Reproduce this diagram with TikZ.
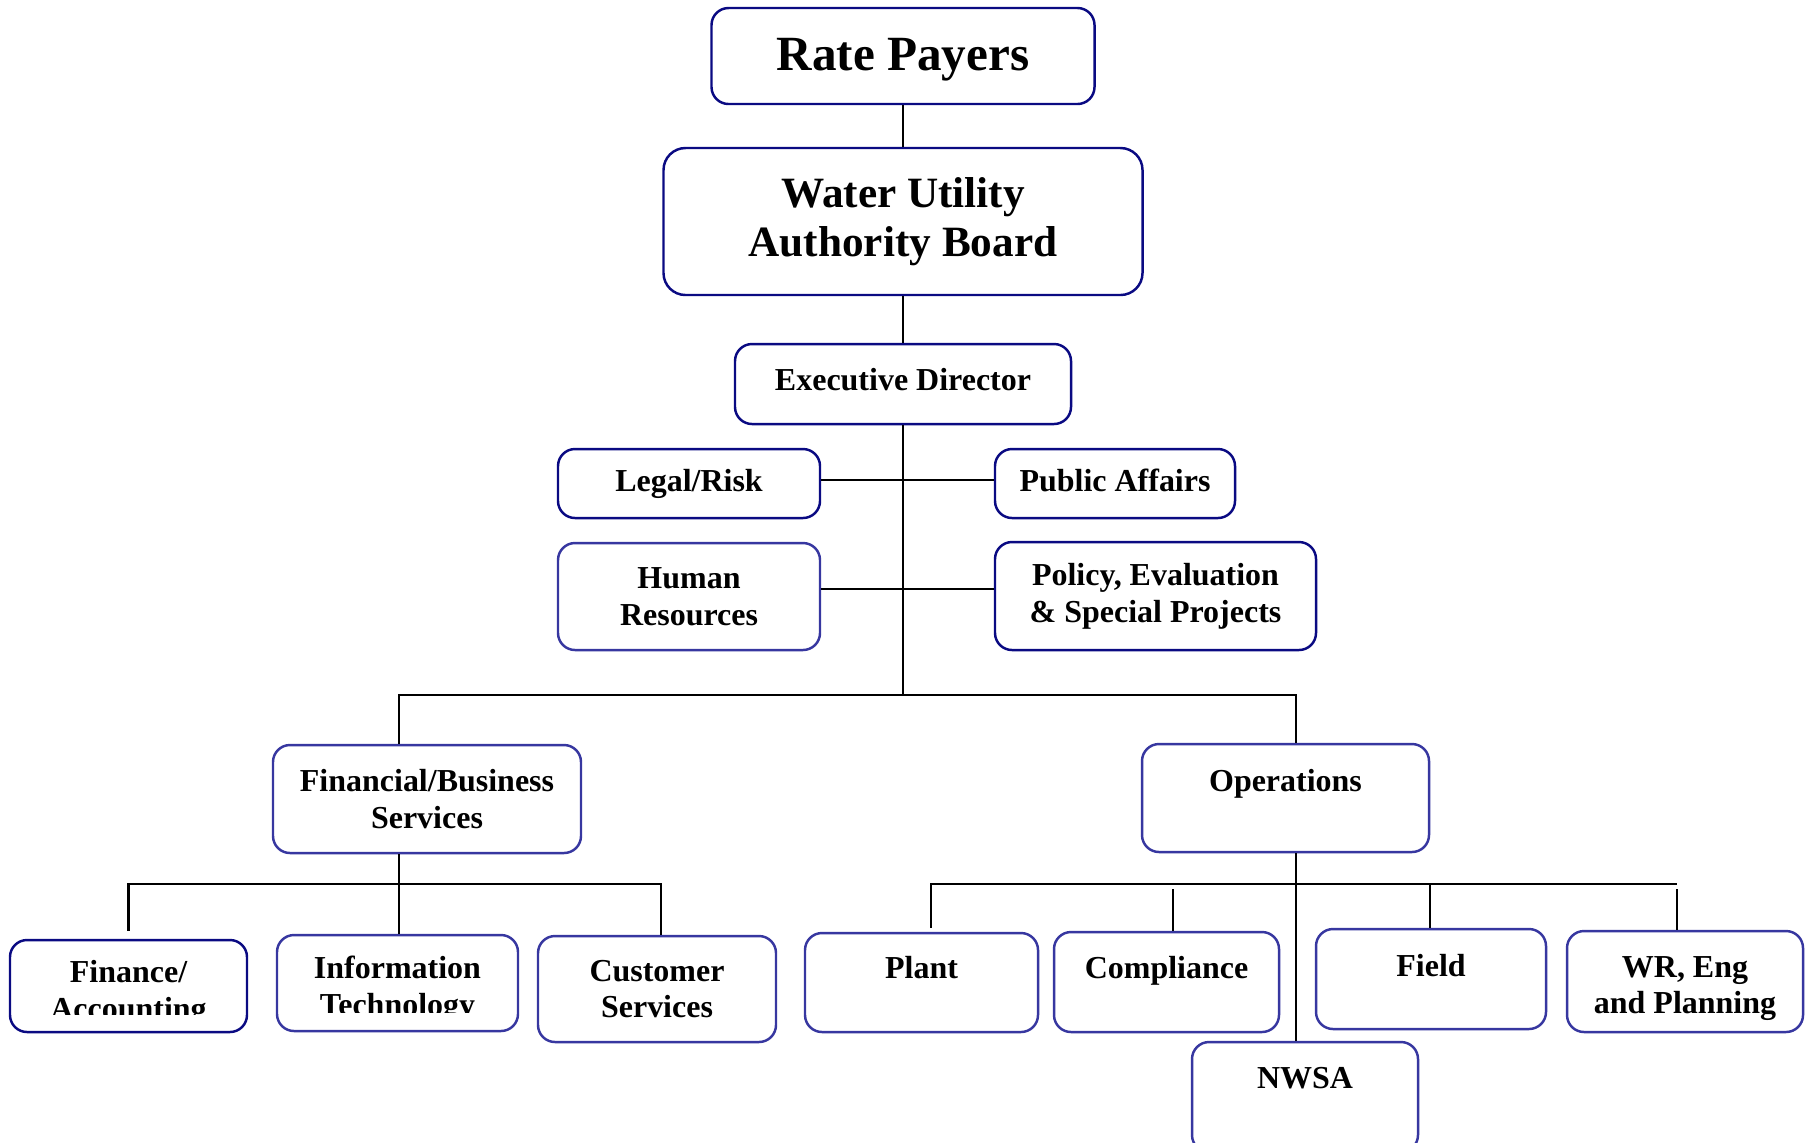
\documentclass[tikz,border=0pt]{standalone}
\usepackage{fontspec}
\setmainfont{Liberation Serif}
\usepackage{trimclip}
\usepackage{tikz}
\usetikzlibrary{calc}
\usetikzlibrary{positioning}
\definecolor{navy}{RGB}{10, 10, 130}
\definecolor{indigo}{RGB}{55, 55, 160}
\newcommand{\stack}[1]{\begin{tabular}{@{}c@{}}#1\end{tabular}}
\newcommand{\cutbox}[2]{\clipbox{0pt #1 0pt 0pt}{\stack{#2}}}
\tikzset{
    unit/.style={draw=indigo, line width=0.7pt, rounded corners=0.17cm, align=center,
                 inner sep=0pt, font=\bfseries\fontsize{9.1}{10.5}\selectfont},
    dark/.style={unit, draw=navy},
    raised/.style={text height=0.22cm, text depth=#1},
    wire/.style={line width=0.6pt},
}

\begin{document}
\begin{tikzpicture}
            \useasboundingbox (0.00, 0.00) rectangle (18.08,-11.42);
            % top of the chart
            \node[dark, minimum width=3.83cm, minimum height=0.96cm, text height=0.33cm, text depth=0.04cm,
                 font=\bfseries\fontsize{14}{16}\selectfont]
                 (rate)   at ( 9.03,-0.56)  {Rate Payers};
            \node[dark, minimum width=4.79cm, minimum height=1.47cm, rounded corners=0.22cm,
                 font=\bfseries\fontsize{12.3}{13.9}\selectfont]
                 (board)  at ( 9.03,-2.215) {Water Utility\\Authority Board};
            \node[dark, raised=0.10cm, minimum width=3.36cm, minimum height=0.80cm] (exec) at ( 9.03,-3.84) {Executive Director};
            \node[dark,   minimum width=2.62cm, minimum height=0.69cm] (legal)  at ( 6.89,-4.835) {Legal/Risk};
            \node[dark, raised=0.06cm, minimum width=2.40cm, minimum height=0.69cm] (public) at (11.15,-4.835) {Public Affairs};
            \node[unit,   minimum width=2.62cm, minimum height=1.07cm] (hr)     at ( 6.89,-5.965) {Human\\Resources};
            \node[dark,   minimum width=3.21cm, minimum height=1.08cm] (policy) at (11.555,-5.96) {Policy, Evaluation\\\& Special Projects};
            % divisions
            \node[unit,   minimum width=3.08cm, minimum height=1.08cm] (fin)    at ( 4.27,-7.99)  {Financial/Business\\Services};
            \node[unit, raised=0.36cm, minimum width=2.87cm, minimum height=1.08cm] (ops) at (12.855,-7.98) {Operations};
            % sections
            \node[dark,   minimum width=2.37cm, minimum height=0.92cm] (acct)   at ( 1.285,-9.86) {\cutbox{0.16cm}{Finance/\\Accounting}};
            \node[unit,   minimum width=2.41cm, minimum height=0.96cm] (it)     at ( 3.975,-9.83) {\cutbox{0.14cm}{Information\\Technology}};
            \node[unit,   minimum width=2.38cm, minimum height=1.06cm] (cust)   at ( 6.57,-9.89)  {Customer\\Services};
            \node[unit, raised=0.30cm, minimum width=2.33cm, minimum height=0.99cm] (plant) at ( 9.215,-9.825) {Plant};
            \node[unit, raised=0.30cm, minimum width=2.25cm, minimum height=1.00cm] (comp)  at (11.665,-9.82) {Compliance};
            \node[unit, raised=0.28cm, minimum width=2.30cm, minimum height=1.00cm] (field) at (14.31,-9.79)  {Field};
            \node[unit, text height=0.45cm, text depth=0.16cm, minimum width=2.36cm, minimum height=1.01cm]
                 (wr)     at (16.85,-9.815) {\stack{WR, Eng\\and Planning}};
            \node[unit, raised=0.40cm, minimum width=2.26cm, minimum height=1.10cm] (nwsa)  at (13.05,-10.97) {NWSA};
            % connectors
            \coordinate (bus)    at ( 9.03,-6.95);
            \coordinate (fbus)   at ( 3.99,-6.95);
            \coordinate (obus)   at (12.96,-6.95);
            \coordinate (row1)   at ( 9.03,-4.80);
            \coordinate (row2)   at ( 9.03,-5.89);
            \coordinate (lowbus) at ( 0.00,-8.84);
            \coordinate (cusdrop) at ( 6.61,-8.84);
            \coordinate (otrunk) at (12.96,-8.84);
            \coordinate (pdrop)  at ( 9.31,-8.84);
            \coordinate (cdrop)  at (11.73,-8.84);
            \coordinate (fdrop)  at (14.30,-8.84);
            \coordinate (wdrop)  at (16.77,-8.84);
            \draw[wire] (rate) -- (board);
            \draw[wire] (board) -- (exec);
            \draw[wire] (exec) -- (bus);
            \draw[wire] (legal.east |- row1) -- (public.west |- row1);
            \draw[wire] (hr.east |- row2) -- (policy.west |- row2);
            \draw[wire] (fin.north -| fbus) -- (fbus) -- (obus) -- (ops.north -| obus);
            \draw[wire] (fin.south -| fbus) -- (it.north -| fbus);
            \draw[wire, shorten <=0.08cm] (acct.north) -- (acct.north |- lowbus) -- (cusdrop) -- (cust.north -| cusdrop);
            \draw[wire] (ops.south -| otrunk) -- (nwsa.north -| otrunk);
            \draw[wire, shorten <=0.04cm] (plant.north -| pdrop) -- (pdrop) -- (wdrop);
            \draw[wire] (field.north -| fdrop) -- (fdrop);
            \draw[wire, shorten >=0.05cm] (comp.north -| cdrop) -- (cdrop);
            \draw[wire, shorten >=0.05cm] (wr.north -| wdrop) -- (wdrop);
\end{tikzpicture}
\end{document}
